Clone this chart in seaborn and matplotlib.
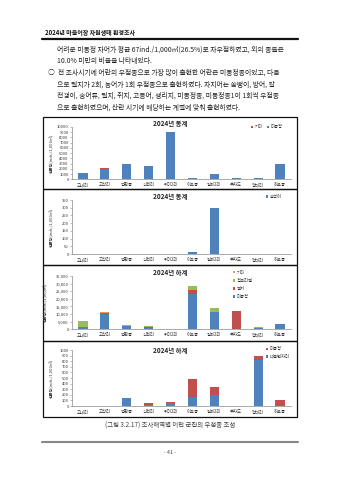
import matplotlib
matplotlib.use("Agg")
import matplotlib.pyplot as plt
import seaborn as sns
import numpy as np
from matplotlib.patches import Rectangle, Patch
from matplotlib.lines import Line2D
from matplotlib.ticker import FuncFormatter, MultipleLocator

# ---------------- data ----------------
sites = ["고내리", "고산리", "법환동", "신천리", "위미2리", "이호동", "일과2리", "추자도", "평대리", "하효동"]

# panel 1: 2024 winter (stacked: 미동정 bottom, 기타 top)
p1_undet = [1150, 1950, 3000, 2550, 9100, 300, 1080, 300, 200, 2880]
p1_other = [0, 120, 0, 0, 0, 0, 0, 0, 0, 0]

# panel 2: 2024 winter, 쏨뱅이
p2_scorp = [0, 0, 0, 0, 0, 12, 295, 0, 0, 0]

# panel 3: 2024 summer (stacked: 미동정, 멸치, 청보리멸, 기타)
p3_undet = [1200, 10000, 2200, 1000, 400, 23500, 11100, 0, 1000, 3700]
p3_anch = [200, 400, 0, 200, 0, 2600, 0, 12000, 0, 0]
p3_sillago = [4300, 600, 500, 1100, 0, 2600, 3000, 0, 500, 0]
p3_other = [0, 600, 300, 0, 0, 0, 0, 0, 0, 0]

# panel 4: 2024 summer (stacked: 네줄벤자리 bottom, 미동정 top)
p4_grunt = [0, 0, 140, 25, 55, 160, 195, 0, 815, 0]
p4_undet = [0, 0, 0, 25, 25, 320, 145, 0, 70, 105]

titles = ["2024년 동계", "2024년 동계", "2024년 하계", "2024년 하계"]
ylabel = "현존량(inds./1,000㎥)"

header = "2024년 마을어장 자원생태 환경조사"
body = [
    (57, "어려운 미동정 자어가 평균 67ind./1,000㎥(26.5%)로 차우점하였고, 외의 종들은"),
    (57, "10.0% 미만의 비율을 나타내었다."),
    (48, "○  전 조사시기에 어란의 우점종으로 가장 많이 출현한 어란은 미동정종이었고, 다음"),
    (57, "으로 멸치가 2회, 농어가 1회 우점종으로 출현하였다. 자치어는 쏨뱅이, 방어, 갈"),
    (57, "전갱이, 숭어류, 멸치, 쥐치, 고등어, 생리치, 미동정종, 미동정종1이 1회씩 우점종"),
    (57, "으로 출현하였으며, 산란 시기에 해당하는 계절에 맞춰 출현하였다."),
]
caption = "(그림 3.2.17) 조사해역별 어란 군집의 우점종 조성"
pagenum = "- 41 -"

BLUE, RED, GREEN, ORANGE = "#4F81BD", "#C0504D", "#9BBB59", "#F79646"

# ---------------- figure ----------------
sns.set_theme(style="white")
plt.rcParams['font.family'] = ['Noto Sans CJK KR', 'DejaVu Sans']

W, H = 339, 480
fig = plt.figure(figsize=(W / 100, H / 100), dpi=100)
fig.patch.set_facecolor("white")


def fx(x):
    return x / W


def fy(y):
    return 1 - y / H


def add_ax(l, t, r, b):
    return fig.add_axes([fx(l), fy(b), (r - l) / W, (b - t) / H])


# header
fig.text(fx(45), fy(32), header, fontsize=4.3, fontweight="bold", color="#111", va="center", ha="left")
fig.add_artist(Line2D([fx(42), fx(298)], [fy(38.5), fy(38.5)], color="#111", lw=1.6, transform=fig.transFigure))

# body text
ys = [50, 61.5, 73, 84.5, 96, 107.5]
for (x, t), y in zip(body, ys):
    fig.text(fx(x), fy(y), t, fontsize=4.95, color="#222", va="center", ha="left")

# panels boxes
panels = [(117, 188.5), (188.5, 264.5), (264.5, 340.5), (340.5, 417)]
for t, b in panels:
    fig.add_artist(Rectangle((fx(43), fy(b)), (297 - 43) / W, (b - t) / H, fill=False,
                             edgecolor="#111", lw=0.9, transform=fig.transFigure))


def stacked(ax, series, colors):
    cum = np.cumsum(np.array(series, dtype=float), axis=0)
    for i in range(len(series) - 1, -1, -1):
        sns.barplot(x=sites, y=cum[i], order=sites, color=colors[i], saturation=1,
                    width=0.42, linewidth=0, ax=ax)


def style_axis(ax, ymax, step, comma=False):
    ax.set_xlim(-0.5, len(sites) - 0.5)
    ax.set_ylim(0, ymax)
    ax.yaxis.set_major_locator(MultipleLocator(step))
    if comma:
        ax.yaxis.set_major_formatter(FuncFormatter(lambda v, p: f"{int(v):,}"))
    else:
        ax.yaxis.set_major_formatter(FuncFormatter(lambda v, p: f"{int(v)}"))
    for s in ["top", "right"]:
        ax.spines[s].set_visible(False)
    for s in ["left", "bottom"]:
        ax.spines[s].set_color("#888")
        ax.spines[s].set_linewidth(0.5)
    ax.tick_params(axis="y", labelsize=2.9, length=1.2, width=0.4, color="#888", pad=1.2, labelcolor="#333", left=True)
    ax.tick_params(axis="x", labelsize=3.1, length=0, pad=2.2, labelcolor="#333")
    ax.set_xlabel("")
    ax.set_facecolor("none")


def legend(ax, labels, colors, x, y, ncol=1, spacing=0.5):
    handles = [Patch(facecolor=c, edgecolor="none") for c in colors]
    ax.legend(handles, labels, loc="upper left", bbox_to_anchor=(fx(x), fy(y)),
              bbox_transform=fig.transFigure, ncol=ncol, frameon=False, fontsize=3.1,
              handlelength=0.55, handleheight=0.55, handletextpad=0.3, columnspacing=0.9,
              borderpad=0, borderaxespad=0, labelspacing=spacing, labelcolor="#333")


axes_rows = [(127, 179.3), (200, 254), (276, 329.3), (350, 406)]

# panel 1
ax1 = add_ax(72, axes_rows[0][0], 291, axes_rows[0][1])
stacked(ax1, [p1_undet, p1_other], [BLUE, RED])
style_axis(ax1, 10000, 1000)
legend(ax1, ["기타", "미동정"], [RED, BLUE], 251, 124.5, ncol=2)

# panel 2
ax2 = add_ax(72, axes_rows[1][0], 291, axes_rows[1][1])
sns.barplot(x=sites, y=p2_scorp, order=sites, color=BLUE, saturation=1, width=0.42, linewidth=0, ax=ax2)
style_axis(ax2, 350, 50)
legend(ax2, ["쏨뱅이"], [BLUE], 266, 194)

# panel 3
ax3 = add_ax(72, axes_rows[2][0], 291, axes_rows[2][1])
stacked(ax3, [p3_undet, p3_anch, p3_sillago, p3_other], [BLUE, RED, GREEN, ORANGE])
style_axis(ax3, 35000, 5000, comma=True)
legend(ax3, ["기타", "청보리멸", "멸치", "미동정"], [ORANGE, GREEN, RED, BLUE], 233, 269.5, spacing=0.75)

# panel 4
ax4 = add_ax(72, axes_rows[3][0], 291, axes_rows[3][1])
stacked(ax4, [p4_grunt, p4_undet], [BLUE, RED])
style_axis(ax4, 1000, 100)
legend(ax4, ["미동정", "네줄벤자리"], [RED, BLUE], 266, 346.5, spacing=0.55)

# titles and y labels
title_y = [123.5, 197, 272, 350]
ylab_x = [52, 52, 46, 52]
for i, (ax, ty) in enumerate(zip([ax1, ax2, ax3, ax4], title_y)):
    fig.text(fx(170), fy(ty), titles[i], fontsize=4.6, fontweight="bold", color="#222", ha="center", va="center")
    t, b = axes_rows[i]
    fig.text(fx(ylab_x[i]), fy((t + b) / 2), ylabel, fontsize=2.9, color="#333", rotation=90,
             ha="center", va="center")
    ax.set_ylabel("")

# caption, bottom rule, page number
fig.text(fx(170), fy(426), caption, fontsize=4.6, color="#444", ha="center", va="center")
fig.add_artist(Line2D([fx(42), fx(298)], [fy(442), fy(442)], color="#888", lw=1.5, transform=fig.transFigure))
fig.text(fx(170), fy(452.5), pagenum, fontsize=3.8, color="#444", ha="center", va="center")

fig.savefig("out.png", dpi=100, facecolor="white")
